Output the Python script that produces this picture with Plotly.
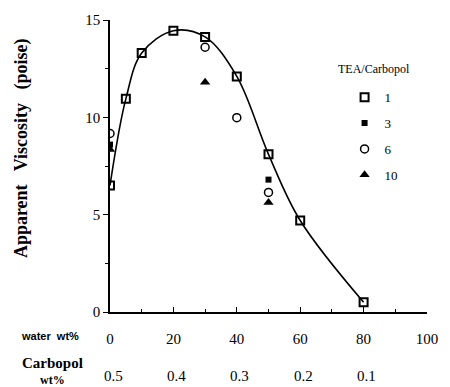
import plotly.graph_objects as go

# TEA/Carbopol = 1 (open squares, fitted curve)
water_1 = [0, 5, 10, 20, 30, 40, 50, 60, 80]
visc_1 = [6.5, 10.95, 13.3, 14.45, 14.13, 12.1, 8.1, 4.7, 0.5]
# TEA/Carbopol = 3 (filled squares)
water_3 = [0, 50]
visc_3 = [8.6, 6.8]
# TEA/Carbopol = 6 (open circles)
water_6 = [0, 30, 40, 50]
visc_6 = [9.17, 13.6, 9.98, 6.14]
# TEA/Carbopol = 10 (filled triangles)
water_10 = [0, 30, 50]
visc_10 = [8.35, 11.8, 5.63]

water_ticks = [0, 20, 40, 60, 80, 100]
carbopol_labels = ["0.5", "0.4", "0.3", "0.2", "0.1"]
y_ticks = [0, 5, 10, 15]

SERIF = "Liberation Serif, Times New Roman, serif"
SANS = "Liberation Sans, Arial, sans-serif"

fig = go.Figure()

# fitted curve through TEA/Carbopol = 1
fig.add_trace(go.Scatter(x=water_1, y=visc_1, mode="lines",
                         line=dict(color="black", width=1.6, shape="spline", smoothing=1.0),
                         showlegend=False, hoverinfo="skip"))

fig.add_trace(go.Scatter(x=water_1, y=visc_1, mode="markers", name="1",
                         legendgroup="a",
                         marker=dict(symbol="square-open", size=8, color="black",
                                     line=dict(width=2, color="black"))))
fig.add_trace(go.Scatter(x=water_3, y=visc_3, mode="markers", name="3",
                         legendgroup="b",
                         marker=dict(symbol="square", size=6, color="black")))
fig.add_trace(go.Scatter(x=water_6, y=visc_6, mode="markers", name="6",
                         legendgroup="c",
                         marker=dict(symbol="circle-open", size=8, color="black",
                                     line=dict(width=1.5, color="black"))))
fig.add_trace(go.Scatter(x=water_10, y=visc_10, mode="markers", name="10",
                         legendgroup="d",
                         marker=dict(symbol="triangle-up", size=9, color="black")))

annotations = []
# Carbopol wt% row aligned with water ticks
for w, lab in zip(water_ticks, carbopol_labels):
    annotations.append(dict(x=w + 1, y=-0.22, xref="x", yref="paper", text=lab,
                            showarrow=False, xanchor="center", yanchor="middle",
                            font=dict(family=SERIF, size=15, color="black")))
annotations.append(dict(x=-0.287, y=-0.082, xref="paper", yref="paper", text="<b>water  wt%</b>",
                        showarrow=False, xanchor="left", yanchor="middle",
                        font=dict(family=SANS, size=11, color="black")))
annotations.append(dict(x=-0.18, y=-0.176, xref="paper", yref="paper", text="<b>Carbopol</b>",
                        showarrow=False, xanchor="center", yanchor="middle",
                        font=dict(family=SERIF, size=15, color="black")))
annotations.append(dict(x=-0.18, y=-0.232, xref="paper", yref="paper", text="<b>wt%</b>",
                        showarrow=False, xanchor="center", yanchor="middle",
                        font=dict(family=SERIF, size=12, color="black")))
annotations.append(dict(x=-0.281, y=0.561, xref="paper", yref="paper",
                        text="<b>Apparent   Viscosity   (poise)</b>", textangle=-90,
                        showarrow=False, xanchor="center", yanchor="middle",
                        font=dict(family=SERIF, size=18, color="black")))
annotations.append(dict(x=0.7125, y=0.833, xref="paper", yref="paper", text="TEA/Carbopol",
                        showarrow=False, xanchor="left", yanchor="middle",
                        font=dict(family=SERIF, size=12, color="black")))

fig.update_layout(
    width=450, height=387,
    margin=dict(l=110, r=13, t=18, b=75),
    paper_bgcolor="white", plot_bgcolor="white",
    font=dict(family=SERIF, color="black"),
    showlegend=True,
    legend=dict(x=0.74, y=0.787, xanchor="left", yanchor="top",
                traceorder="grouped", tracegroupgap=6,
                font=dict(family=SERIF, size=13, color="black"),
                bgcolor="rgba(0,0,0,0)"),
    annotations=annotations,
    xaxis=dict(range=[0, 100], tickvals=water_ticks, ticks="inside", ticklen=5,
               tickwidth=1.3, tickcolor="black", showline=True, linecolor="black",
               linewidth=1.5, showgrid=False, zeroline=False, ticklabelstandoff=12,
               tickfont=dict(family=SERIF, size=15, color="black"),
               minor=dict(tickvals=[10, 30, 50, 70, 90], ticks="inside", ticklen=3,
                          tickcolor="black", showgrid=False)),
    yaxis=dict(range=[0, 15], tickvals=y_ticks, ticks="outside", ticklen=5,
               tickwidth=1.3, tickcolor="black", showline=True, linecolor="black",
               linewidth=1.5, showgrid=False, zeroline=False,
               tickfont=dict(family=SERIF, size=15, color="black"),
               minor=dict(tickvals=[2.5, 7.5, 12.5], ticks="outside", ticklen=3,
                          tickcolor="black", showgrid=False)),
)

fig.write_html("out.html")
